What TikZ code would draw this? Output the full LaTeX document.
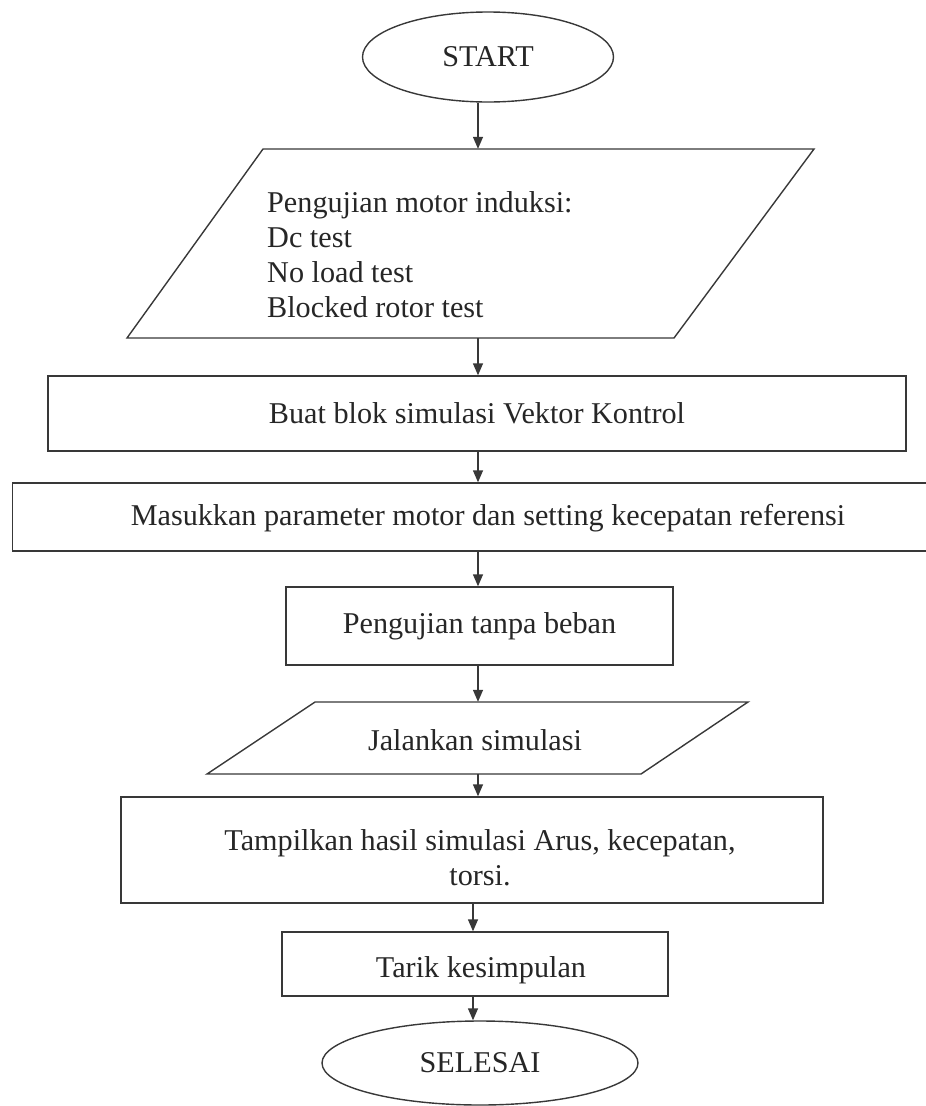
\documentclass[tikz,border=0pt]{standalone}
\usepackage{fontspec}
\setmainfont{Liberation Serif}
\usetikzlibrary{arrows.meta,shapes.geometric}
\begin{document}
\begin{tikzpicture}[x=1pt,y=-1pt,
  line/.style={draw=black!78, line width=1.4pt},
  txt/.style={text=black!85, font=\fontsize{30.2}{35}\selectfont, inner sep=0pt},
  box/.style={line, rectangle, inner sep=0pt, txt, align=center},
  term/.style={line, ellipse, inner sep=0pt, txt},
  ghost/.style={rectangle, inner sep=0pt},
  arr/.style={line, -{Triangle[length=12pt,width=10pt]}}
]
\useasboundingbox (0,0) rectangle (926,1106);
\coordinate (ax) at (478,0);
\coordinate (bx) at (473,0);

% START
\node[term, minimum width=251pt, minimum height=90pt] (start) at (488,57) {START};

% parallelogram 1
\node[ghost, minimum width=500pt, minimum height=189pt] (p1) at (469.5,243.5) {};
\draw[line, line join=miter] (127,338) -- (263,149) -- (814,149) -- (674,338) -- cycle;
\node[txt, anchor=west, align=left] (p1t) at (267,255)
  {Pengujian motor induksi:\\Dc test\\No load test\\Blocked rotor test};

% box 2
\node[box, minimum width=858pt, minimum height=75pt] (b2) at (477,413.5) {Buat blok simulasi Vektor Kontrol};

% box 3
\node[box, minimum width=914pt, minimum height=68pt] (b3) at (469.5,517) {};
\node[txt] (b3t) at (488,518) {Masukkan parameter motor dan setting kecepatan referensi};

% box 4
\node[box, minimum width=387pt, minimum height=78pt] (b4) at (479.5,626) {Pengujian tanpa beban};

% parallelogram 2
\node[ghost, minimum width=430pt, minimum height=72pt] (p2) at (477.75,738) {};
\draw[line, line join=miter] (207,774) -- (315,702) -- (748,702) -- (641,774) -- cycle;
\node[txt] (p2t) at (475,740) {Jalankan simulasi};

% box 6
\node[box, minimum width=702pt, minimum height=106pt] (b6) at (472,850) {};
\node[txt, align=center] (b6t) at (480,858) {Tampilkan hasil simulasi Arus, kecepatan,\\torsi.};

% box 7
\node[box, minimum width=386pt, minimum height=64pt] (b7) at (475,964) {};
\node[txt] (b7t) at (481,970) {Tarik kesimpulan};

% SELESAI
\node[term, minimum width=316pt, minimum height=84pt] (end) at (480,1063) {SELESAI};

% connectors
\draw[arr] (start.south -| ax) -- (p1.north -| ax);
\draw[arr] (p1.south -| ax) -- (b2.north -| ax);
\draw[arr] (b2.south -| ax) -- (b3.north -| ax);
\draw[arr] (b3.south -| ax) -- (b4.north -| ax);
\draw[arr] (b4.south -| ax) -- (p2.north -| ax);
\draw[arr] (p2.south -| ax) -- (b6.north -| ax);
\draw[arr] (b6.south -| bx) -- (b7.north -| bx);
\draw[arr] (b7.south -| bx) -- (end.north -| bx);
\end{tikzpicture}
\end{document}
